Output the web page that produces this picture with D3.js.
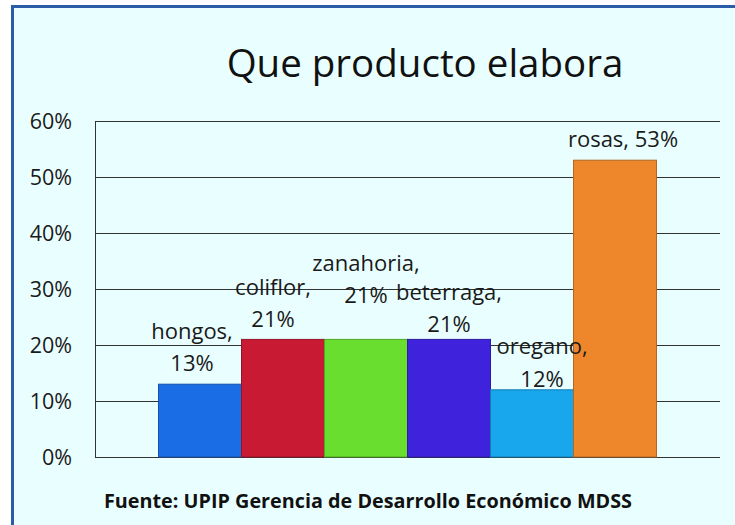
<!DOCTYPE html>
<html>
<head>
<meta charset="utf-8">
<script src="https://cdn.jsdelivr.net/npm/d3@7"></script>
<style>
  html, body { margin: 0; padding: 0; background: #ffffff; overflow: hidden; }
  svg { display: block; font-family: "Open Sans", Lato, sans-serif; }
</style>
</head>
<body>
<div id="root"></div>
<script>
const categories = ["hongos", "coliflor", "zanahoria", "beterraga", "oregano", "rosas"];
const values = [13, 21, 21, 21, 12, 53];
const barColors = ["#1a6de4", "#c81a32", "#6ade2e", "#3e22dc", "#18a6ec", "#ee872c"];
const tickValues = [0, 10, 20, 30, 40, 50, 60];
const title = "Que producto elabora";
const source = "Fuente: UPIP Gerencia de Desarrollo Económico MDSS";

// where each data label sits relative to the top centre of its bar
const labelLayout = [
  { dx: -8, dy: -13, twoLines: true },
  { dx: -10, dy: -12, twoLines: true },
  { dx: 0, dy: -36, twoLines: true },
  { dx: 0, dy: -7, twoLines: true },
  { dx: 10, dy: -3, twoLines: true },
  { dx: 8, dy: -13, twoLines: false },
];

const width = 735;
const height = 525;
const margin = { top: 121, left: 95, right: 15, bottom: 68 };
const innerWidth = width - margin.left - margin.right;
const innerHeight = height - margin.top - margin.bottom;

const svg = d3
  .select("#root")
  .append("svg")
  .attr("width", width)
  .attr("height", height)
  .attr("viewBox", `0 0 ${width} ${height}`);

// chart background and frame (only left and top edges are visible in the crop)
svg
  .append("rect")
  .attr("x", 12)
  .attr("y", 6)
  .attr("width", width - 12)
  .attr("height", height - 6)
  .attr("fill", "#e9ffff");

svg
  .append("path")
  .attr("d", `M12.5,${height} V6.5 H${width}`)
  .attr("fill", "none")
  .attr("stroke", "#2b5ca8")
  .attr("stroke-width", 3);

svg
  .append("text")
  .attr("x", 425)
  .attr("y", 77)
  .attr("text-anchor", "middle")
  .attr("font-size", 38.5)
  .attr("fill", "#111")
  .text(title);

const innerChart = svg
  .append("g")
  .attr("transform", `translate(${margin.left}, ${margin.top})`);

const xScale = d3
  .scaleBand()
  .domain(categories)
  .range([0, innerWidth])
  .paddingInner(0)
  .paddingOuter(0.765);

const yScale = d3.scaleLinear().domain([0, 60]).range([innerHeight, 0]);

// gridlines + left axis
const leftAxis = d3
  .axisLeft(yScale)
  .tickValues(tickValues)
  .tickSize(-innerWidth)
  .tickSizeOuter(0)
  .tickPadding(23)
  .tickFormat((d) => d + "%");

const yAxis = innerChart.append("g").call(leftAxis);
yAxis.select(".domain").attr("stroke", "#333");
yAxis.selectAll(".tick line").attr("stroke", "#333").attr("stroke-width", 1);
yAxis
  .selectAll(".tick text")
  .attr("font-size", 21.5)
  .attr("font-family", "'Open Sans', sans-serif")
  .attr("fill", "#1a1a1a")
  .attr("dy", "0.36em");

// bars
innerChart
  .selectAll("rect.bar")
  .data(values)
  .join("rect")
  .attr("class", "bar")
  .attr("x", (d, i) => xScale(categories[i]))
  .attr("y", (d) => yScale(d))
  .attr("width", xScale.bandwidth())
  .attr("height", (d) => innerHeight - yScale(d))
  .attr("fill", (d, i) => barColors[i])
  .attr("stroke", (d, i) => d3.color(barColors[i]).darker(0.8))
  .attr("stroke-width", 1);

// data labels
const labels = innerChart
  .selectAll("text.label")
  .data(values)
  .join("text")
  .attr("class", "label")
  .attr("text-anchor", "middle")
  .attr("font-size", 22)
  .attr("fill", "#1a1a1a")
  .attr(
    "transform",
    (d, i) =>
      `translate(${xScale(categories[i]) + xScale.bandwidth() / 2 + labelLayout[i].dx}, ${
        yScale(d) + labelLayout[i].dy
      })`
  );

labels.each(function (d, i) {
  const t = d3.select(this);
  if (labelLayout[i].twoLines) {
    t.append("tspan").attr("x", 0).attr("y", -32.5).text(categories[i] + ",");
    t.append("tspan").attr("x", 0).attr("y", 0).text(d + "%");
  } else {
    t.append("tspan").attr("x", 0).attr("y", 0).text(`${categories[i]}, ${d}%`);
  }
});

svg
  .append("text")
  .attr("x", 368)
  .attr("y", 508)
  .attr("text-anchor", "middle")
  .attr("font-size", 19.8)
  .attr("font-weight", "bold")
  .attr("fill", "#111")
  .text(source);
</script>
</body>
</html>
